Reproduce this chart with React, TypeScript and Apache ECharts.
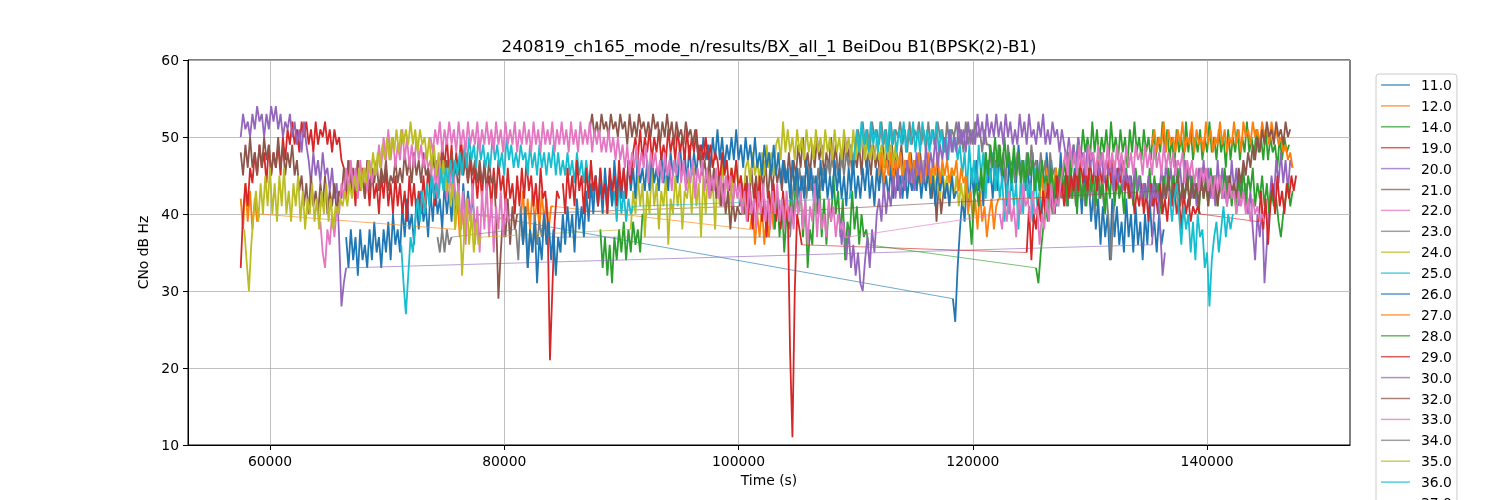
import React, { useEffect, useRef } from "react";
import * as echarts from "echarts";

const TITLE = "240819_ch165_mode_n/results/BX_all_1 BeiDou B1(BPSK(2)-B1)";
const X_NAME = "Time (s)";
const Y_NAME = "CNo dB Hz";
const X_MIN = 53000;
const X_MAX = 152200;
const X_TICKS = [60000, 80000, 100000, 120000, 140000];
const Y_TICKS = [10, 20, 30, 40, 50, 60];
const STEP = 200; // sampling step (s) of the values

const TAB10 = ["#1f77b4", "#ff7f0e", "#2ca02c", "#d62728", "#9467bd", "#8c564b", "#e377c2", "#7f7f7f", "#bcbd22", "#17becf"];
const PRN_NAMES = ["11.0", "12.0", "14.0", "19.0", "20.0", "21.0", "22.0", "23.0", "24.0", "25.0", "26.0", "27.0", "28.0", "29.0", "30.0", "32.0", "33.0", "34.0", "35.0", "36.0", "37.0"];

type Seg = { t0: number; v: number[] };

const prn11: Seg[] = [
  { t0: 66500, v: [37, 33, 38, 34, 37, 32, 38, 34, 36, 33, 38, 34, 39, 35, 37, 33, 38, 35, 39, 34, 40, 36, 38, 35, 41, 37, 42, 38, 40, 36, 42, 38, 43, 39, 41, 37, 43, 39, 44, 40, 42, 38, 44, 40, 43, 39, 44, 40, 42, 38, 44, 39, 43, 40, 42, 38, 40] },
  { t0: 118300, v: [29, 26, 33, 38, 42, 39, 45, 41, 46, 42, 47, 43, 45, 41, 48, 44, 46, 42, 47, 43, 48, 44, 46, 41, 47, 43, 48, 44, 49, 45, 47, 43, 46, 42, 48, 44, 47, 43, 45, 41, 48, 44, 47, 42, 46, 42, 48, 43, 45, 41, 47, 43, 46, 42, 45, 40, 46, 42, 44, 39, 43, 38, 42, 36, 41, 37, 40, 34, 42, 37, 41, 36, 39, 35, 42, 37, 40, 35, 41, 36, 39, 34, 40, 36, 42, 37, 39, 35, 40, 36, 38] },
];
const prn12: Seg[] = [
  { t0: 57500, v: [42, 38, 44, 39, 43, 38, 42, 39, 40] },
  { t0: 75800, v: [38, 42, 37, 41, 37, 42, 40] },
  { t0: 81400, v: [39, 43, 38, 42, 38, 43, 39, 42, 38, 43, 39, 42, 38, 41, 41] },
  { t0: 101000, v: [38, 41, 36, 40, 37, 41, 36, 40, 37, 41, 38, 40, 41] },
];
const prn14: Seg[] = [
  { t0: 88200, v: [38, 33, 37, 32, 36, 31, 37, 34, 38, 35, 39, 34, 38, 35, 39, 36, 38, 35, 40] },
  { t0: 102700, v: [40, 44, 38, 43, 37, 42, 35, 40, 38, 44, 39, 45, 40, 43, 37, 42, 33, 38, 36, 43, 40, 44, 37, 42, 36, 41, 39, 45, 40, 43, 37, 42, 34, 39, 37, 43, 38, 41, 36, 40, 37, 38, 36] },
  { t0: 125400, v: [33, 31, 35, 38, 41, 39, 43, 40, 45, 42, 46, 43, 47, 44, 48, 45, 49, 46, 50, 47, 51, 48, 50, 47, 52, 48, 51, 47, 50, 48, 51, 47, 52, 48, 50, 47, 51, 48, 50, 46, 51, 48, 52, 48, 50, 47, 51, 48, 50, 47, 51, 47, 50, 48, 52, 48, 51, 47, 50, 46, 51, 48, 50, 47, 52, 48, 51, 47, 50, 48, 51, 47, 50, 48, 52, 48, 50, 47, 51, 48, 50, 46, 51, 47, 50, 48, 51, 47, 50, 48, 52, 48, 50, 47, 51, 48, 50, 47, 51, 47, 50, 48, 49, 46, 50, 47, 50, 48, 49] },
];
const prn19: Seg[] = [
  { t0: 57500, v: [33, 40, 44, 41, 46,
    44, 48, 45, 49, 46, 48, 44, 49, 45, 48, 46, 49, 45, 50, 47, 51,
    49, 52, 49, 51, 48, 52, 50, 52, 49, 51, 48, 52, 49, 51, 50, 52, 49, 51, 48, 51, 49, 50, 47,
    46, 42, 47, 43, 45, 41, 47, 43, 46, 42, 45, 41, 46, 42, 44, 40, 45, 42, 46, 41, 44, 40, 45, 41,
    44, 40, 43, 39, 45, 41, 44, 40, 43, 40, 45, 41, 46, 42, 44, 41, 47,
    45, 49, 46, 50, 45, 49, 44, 48, 45, 50, 46, 48, 44, 47, 43, 46, 42,
    46, 42, 47, 43, 45, 41, 46, 42, 47, 43, 45, 41, 46, 42, 44, 40, 45, 41, 46, 42, 47, 43, 45, 41, 44, 40, 46, 42, 43, 39,
    21, 30, 39, 43, 42] },
];
const prn20: Seg[] = [
  { t0: 57500, v: [50, 53, 51, 52, 50, 53, 51, 54, 52, 53, 50, 53, 51, 54, 52, 54, 51, 53, 50, 52, 51, 53, 50, 52, 49, 51, 48, 52, 49, 47, 44, 48, 45, 47, 44, 48, 45, 46, 43, 46, 42, 44, 37, 28, 31, 33] },
  { t0: 135300, v: [36, 41, 44, 42, 46, 42, 47, 43, 46, 42, 47, 44, 46, 42, 47, 43, 46, 42, 45, 41, 46, 43, 47, 43, 46, 42, 45, 41, 47, 43, 46, 42, 45, 42, 47, 43, 46, 41, 45, 42, 44, 40, 43, 38, 34, 40, 37, 41, 31, 36, 41, 45, 42, 47, 44, 48, 44, 47, 43, 47, 46] },
];
const prn21: Seg[] = [
  { t0: 57500, v: [48, 45, 49, 46, 50, 46, 48, 45, 49, 46, 50, 47, 49, 45, 48, 46, 50, 46, 49, 45, 48, 46, 49, 45, 47,
    43, 45, 41, 44, 40, 45, 41, 43, 40, 44, 41, 45, 40, 43, 41, 44, 40, 43, 42,
    46, 43, 47, 44, 46, 43, 47, 44, 45, 42, 47, 43, 46, 44, 47, 43, 46, 44, 47, 43, 45, 44, 47, 44,
    46, 44, 48, 45, 47, 44, 48, 45, 47, 44, 48, 45, 46, 44, 48, 45, 47, 44, 48, 45, 47, 44, 48, 45, 46, 43, 48, 45, 47, 44, 48, 45, 47, 44,
    47, 44, 46, 43, 47, 44, 45, 40,
    29, 35, 40, 37, 42, 36, 41, 38, 40] },
  { t0: 100100, v: [41, 44, 40, 45, 41, 46, 42, 45, 41, 46, 43, 47, 42, 46, 43, 47, 44, 46, 43, 47, 44, 48, 44, 47, 45,
    49, 46, 50, 46, 48, 45, 49, 46, 50, 47, 49, 45, 48, 46, 50, 46, 49, 45, 48, 46, 50, 47, 49, 45, 48, 46, 49, 45, 50, 46, 48, 45, 49, 46, 48, 44, 49, 46, 48, 45, 49, 45, 48, 46, 49, 45, 47, 44, 48, 45, 47, 44, 48, 45, 47, 44, 46,
    42, 45, 39, 44, 40, 43, 42] },
];
const prn22: Seg[] = [
  { t0: 64300, v: [39, 35, 33, 38, 36, 40, 37, 41, 40,
    44, 42, 46, 43, 47, 43, 46, 42, 47, 44, 46, 43, 47, 44, 46, 45,
    49, 46, 50, 47, 51, 47, 50, 46, 49, 47, 51, 47, 50, 46, 49, 46, 50, 47, 49, 46, 48, 46,
    47, 43, 46, 42, 47, 44, 45, 42, 46, 43, 45, 41, 44,
    38, 43, 36, 42, 39, 44, 36, 41, 35, 43, 38, 44, 37, 42, 35, 41, 38, 43, 37, 42, 39, 40] },
];
const prn23: Seg[] = [
  { t0: 74300, v: [37, 35, 38, 35, 38, 36, 37] },
  { t0: 81000, v: [38, 34, 41, 36, 39, 33, 38, 35, 40, 36, 39, 37, 40, 38, 37] },
  { t0: 104400, v: [37, 42, 45, 42, 46, 43, 45, 42, 46, 43, 45, 42, 46, 43, 46, 44,
    47, 45, 48, 45, 47, 44, 48, 45, 48, 46, 49, 46, 48,
    51, 49, 52, 49, 51, 48, 52, 50, 51, 49, 52, 49, 51, 48, 52, 49, 51, 50, 52, 49, 51, 48, 52, 49, 51, 50, 52, 49, 51, 48, 52, 49, 51, 49, 52, 50, 51, 48, 52, 49, 51, 50, 52, 49, 51, 48, 52, 49, 51, 49, 52, 50, 51, 48, 51, 49,
    49, 46, 48, 45, 49, 46, 48, 44, 49, 46, 47, 44, 48, 45, 47, 43, 48, 45, 49, 46, 47, 44, 48, 45, 47, 43, 48, 45, 46, 44,
    45, 42, 44, 41, 45, 42, 44, 41, 46, 42, 44, 41, 45, 42, 44, 40, 45, 42, 44, 41, 43, 39, 34, 40, 43, 44, 43] },
];
const prn24: Seg[] = [
  { t0: 57800, v: [38, 34, 30, 36, 40, 43,
    39, 44, 40, 45, 41, 46, 40, 44, 39, 45, 41, 46, 40, 43, 39, 44, 41, 45, 39, 43, 38, 42, 40, 44, 39, 42, 38, 43, 40, 44, 39, 42, 38, 41, 40, 42,
    41, 43, 41, 44, 42, 45, 43, 46, 43, 46, 44, 47, 45, 48, 45, 48, 46, 49, 47, 50, 47, 50, 48, 51, 48, 51, 49, 51, 49, 52, 49, 51,
    48, 51, 49, 50, 47, 50, 46, 49, 45, 48, 44, 47, 43, 46,
    41, 44, 38, 43, 40, 32, 38, 42, 36, 40, 35, 39, 36, 37] },
  { t0: 90800, v: [38, 43, 40, 45, 41, 44, 37, 43, 40, 46, 41, 44, 38, 43, 41, 45, 36, 42, 40, 45, 41, 44, 38, 43, 42,
    45, 40, 46, 41, 44, 37, 45, 40, 46, 42, 44, 38, 45, 41, 47, 42, 45, 40, 46, 42, 47, 43, 45, 41, 46,
    47, 44, 48, 45, 47, 44, 48, 45, 49, 46, 48, 45, 49,
    50, 47, 52, 48, 51, 48, 50, 47, 51, 48, 50, 47, 51, 48, 50, 47, 51, 48, 50, 47, 51, 48, 50, 47, 51, 48, 50, 47, 51, 48, 50, 47, 51, 47, 50, 48, 51, 47, 50, 47, 49, 47, 50, 47, 49, 46, 50, 47, 49, 46, 49, 46,
    48, 45, 47, 44, 48, 44, 47, 43, 46, 43, 47, 44, 46, 42, 47, 43, 45, 42, 46, 43, 45, 41, 46, 42, 45, 41, 44, 41, 45, 42, 43, 40, 41] },
];
const prn25: Seg[] = [
  { t0: 71200, v: [36, 31, 27, 32, 37, 35,
    39, 42, 39, 43, 40, 44, 41, 45, 42, 44, 42, 46, 43, 46, 44, 47, 44, 47, 45, 48, 45,
    49, 46, 50, 47, 49, 46, 50, 47, 49, 46, 48, 46, 50, 47, 49, 46, 48, 45, 50, 47, 49, 46, 48, 46, 49, 47, 48, 45, 49, 46, 48, 45, 49, 46, 48, 45, 48, 46, 49, 45, 48, 45, 47, 45, 48, 45, 47, 44, 48, 45, 47, 44, 47, 44,
    46, 42, 45, 41, 46, 42, 44, 40, 45, 41, 43, 39, 44, 40, 43, 39, 42, 40, 41] },
  { t0: 109500, v: [42, 46, 48, 51, 48, 52, 49, 51, 48, 52, 49, 51, 48, 52, 49, 51, 48, 52, 49, 51, 48, 51, 49, 52, 48, 51, 49, 52, 48, 51, 48, 52, 49, 51, 48, 51, 49, 52, 48, 51, 48, 50, 47, 51, 48, 50, 47, 49,
    45, 48, 43, 49, 44, 47, 43, 49, 45, 48, 42, 47, 44, 48, 43, 46, 42,
    45, 39, 44, 40, 46, 41, 44, 38, 45, 40, 47, 42, 44, 39, 46, 41, 43, 39, 45, 40, 44, 41, 43, 41, 42] },
];
const prn26: Seg[] = [
  { t0: 81400, v: [40, 36, 41, 33, 38, 35, 39, 31, 37, 34, 40, 36, 39, 34, 38, 32, 37, 35, 40, 36, 41, 37, 40, 35, 42, 38, 41, 37, 43, 39,
    44, 40, 45, 41, 44, 40, 46, 42, 45, 41, 47, 43, 45, 42, 46, 42, 47, 43, 46, 42, 48, 44, 46, 43, 47, 43, 48, 44, 46, 43, 48, 44, 47, 43, 48, 45, 47, 44, 49, 45, 48, 44, 49, 45, 48, 45, 49, 46,
    50, 47, 49, 46, 50, 47, 51, 47, 50, 46, 49, 47, 50, 47, 51, 47, 49, 46, 50, 47, 49, 46, 50, 46, 48, 45, 49, 46, 48, 45, 49, 45, 48, 44, 47, 44,
    46, 42, 47, 43, 46, 42, 45, 42, 47, 43, 46, 42, 45, 41, 47, 43, 46, 42, 45, 42, 47, 43, 46, 42, 45, 41, 46, 43, 47, 42, 45, 42, 46, 43, 47, 42, 45, 41, 46, 43, 47, 43, 45, 42, 46, 42, 47, 43, 45, 42, 46, 42, 45, 43, 47, 43,
    46, 42, 45, 43, 46, 42, 45, 41, 46, 43, 45, 42, 44, 41, 45, 42, 43] },
];
const prn27: Seg[] = [
  { t0: 112000, v: [45, 48, 44, 47, 45, 48, 44, 47, 45, 48, 44, 47, 46, 48, 44, 47, 45, 48, 44, 46, 45, 48, 44, 47, 45, 48, 44, 47, 45, 47, 44, 46, 45, 47, 43, 46, 44, 45, 40, 43, 39, 42, 38, 43, 39, 41, 37, 40, 42, 38, 41, 42] },
  { t0: 125700, v: [42, 45, 41, 46, 42, 45, 43, 46, 42, 45, 43, 44, 42, 44, 42] },
  { t0: 135300, v: [49, 51, 48, 50, 49, 52, 48, 51, 49, 50, 48, 51, 49, 52, 48, 50, 49, 52, 48, 51, 49, 50, 48, 52, 49, 51, 48, 50, 49, 52, 49, 51, 48, 50, 49, 52, 49, 51, 48, 52, 50, 51, 49, 52, 50, 51, 49, 52, 50, 51, 49, 52, 50, 51, 49, 50, 48, 49, 47, 48, 46] },
];
const prn28: Seg[] = [
  { t0: 119700, v: [40, 36, 42, 44, 41, 46, 43, 48, 45, 49, 46, 50, 46, 49, 45, 50, 46, 48, 44, 49, 45, 48, 44, 47, 44, 48, 45, 47, 43, 46, 43, 47, 44, 45,
    42, 46, 42, 45, 41, 46, 43, 45, 41, 46, 42, 45, 40, 46, 42, 44, 41, 46, 43, 45, 41, 46, 42, 44, 40, 45, 42, 46, 41, 45, 42, 44, 40, 46, 42, 45, 41, 46, 43, 45, 41, 44, 42, 46, 41, 45, 42, 44, 40, 45, 42, 46, 41, 45, 43, 46, 41, 44, 42, 46, 41, 45, 42, 44, 40, 46, 42, 45, 41, 46, 43, 45, 41, 44, 42, 46, 42, 45, 41, 44, 40, 45, 42, 46, 41, 45, 43, 46, 41, 44, 42, 45, 41, 44, 40, 43, 41, 42, 39,
    37, 40, 42, 44, 41, 43] },
];
const prn29: Seg[] = [
  { t0: 85000, v: [44, 40, 46, 42, 45, 41, 47, 43, 45, 40, 46, 42, 47, 43, 45, 41, 46, 42, 44, 40, 46, 43, 45, 41, 47, 43, 46, 42, 47, 44, 48,
    50, 47, 51, 47, 50, 48, 51, 47, 50, 48, 51, 47, 49, 47, 51, 48, 50, 47, 51, 48, 50, 47, 51, 47, 50, 48, 51, 47, 49, 47, 50, 47, 49, 46, 48,
    47, 44, 48, 45, 47, 43, 46, 44, 47, 43, 45, 42,
    44, 39, 43, 38, 44, 40, 45, 39, 42, 37, 43, 40, 44, 39, 42, 38, 43, 39, 41,
    22, 11, 30, 40, 38, 36] },
  { t0: 124600, v: [35, 41, 34, 40, 38,
    42, 39, 43, 40, 44, 41, 43, 40, 45, 42, 44, 41, 46, 42, 45, 43, 46, 43, 47, 44, 46, 43, 47, 44, 46, 43, 47, 44, 46, 43, 47,
    44, 47, 43, 46, 44, 47, 43, 45,
    42, 44, 40, 43, 41, 44, 40, 43, 39, 44, 41, 43, 40, 44, 40, 42, 39, 43, 41, 44, 40, 42, 38, 43, 40, 42, 39, 41, 40, 41, 40] },
  { t0: 144400, v: [39, 43, 38, 42, 36, 41, 44, 40, 45, 41, 43, 40, 44, 42, 45, 43, 45] },
];
const prn30: Seg[] = [
  { t0: 108600, v: [40, 36, 39, 34, 38, 33, 36, 32, 35, 31, 30, 34, 37, 33, 38, 35, 40,
    42, 39, 44, 40, 43, 41, 45, 42, 46, 42, 45, 43, 47, 44, 46, 43, 48, 45, 47, 44, 49, 45, 48, 46, 50, 46, 49, 47, 50, 47, 51, 48, 50, 48, 52, 49, 51, 48, 52, 49, 51, 49, 53, 50, 52, 49, 53, 50,
    52, 50, 53, 50, 52, 49, 53, 50, 52, 49, 51, 49, 53, 50, 52, 49, 53, 50, 51, 49, 52, 50, 53, 49, 51, 49, 52, 50, 51, 48, 51,
    49, 47, 50, 47, 49, 46, 50, 47, 48, 45, 49, 46, 48, 45, 47, 45, 48, 44, 47, 45, 47, 43, 46, 44, 47, 43, 46, 44, 45, 42, 46, 43, 45, 42, 44, 42, 45, 41, 44, 42, 43,
    38, 32, 35] },
];
const prn32: Seg[] = [
  { t0: 87300, v: [51, 53, 50, 52, 50, 53, 51, 52, 50, 53, 51, 52, 50, 53, 51, 52, 49, 53, 50, 52, 50, 53, 51, 52, 50, 52, 50, 53, 51, 52, 49, 52, 50, 53, 50, 52, 49, 52, 50, 51, 49, 52, 50, 51, 49, 51, 48,
    48, 45, 47, 44, 47, 43, 46, 42, 45, 41, 44, 40, 43, 38, 42, 39, 41, 40, 40] },
  { t0: 135900, v: [43, 41, 44, 42, 45, 41, 44, 42, 45, 41, 44, 42, 45, 41, 44, 42, 44, 41, 45, 42, 44, 41, 45, 42, 44, 41, 45, 42, 44, 41, 45, 43, 44, 42, 46, 44, 47, 45, 48, 46, 49, 47, 50, 48, 51, 49, 52, 50, 51, 49, 52, 50, 51, 49, 52, 50, 51] },
];
const prn33: Seg[] = [
  { t0: 73700, v: [50, 48, 51, 49, 52, 48, 51, 49, 52, 49, 51, 48, 52, 49, 51, 48, 52, 49, 51, 49, 52, 48, 51, 49, 52, 49, 51, 48, 52, 49, 51, 48, 52, 49, 51, 49, 52, 48, 51, 49, 52, 49, 51, 48, 52, 49, 51, 48, 52, 49, 51, 49, 52, 48, 51, 49, 52, 49, 51, 48, 52, 49, 51, 48, 52, 49, 51, 49, 52, 48, 51, 49, 51, 48, 50, 48, 51, 48, 50, 47, 50,
    47, 49, 46, 49, 45, 48, 46, 49, 45, 48, 46, 49, 44, 48, 46, 48, 45, 47, 44, 48, 45, 47, 43, 47, 45, 48, 44, 47, 43, 46, 44, 47, 42, 46, 44, 47, 43, 46, 42, 45, 43, 46, 42, 45, 41, 45, 43, 45, 41, 44, 42,
    44, 40, 43, 39, 44, 40, 42, 38, 43, 40, 44, 39, 42, 38, 43, 40, 44, 39, 42, 38, 43, 39, 41, 38, 42,
    40, 43, 38, 42, 36, 41, 39, 44, 37, 42, 38, 40, 37, 42, 39, 41, 37, 40, 38, 39, 37, 37] },
  { t0: 122300, v: [40, 38, 42, 39, 43, 39, 41, 37, 42, 40, 44, 41, 42, 39, 43, 40, 41,
    36, 40, 38, 42, 39, 44, 40, 42, 41, 44,
    46, 48, 45, 49, 46, 48, 45, 49, 46, 48, 45, 49, 47, 48, 45, 49, 46, 48, 45, 49, 46, 48, 45, 49, 46, 48, 45, 49, 46, 48, 45, 49, 47, 48, 45, 49, 46, 48, 45, 49, 46, 48, 45, 49, 46, 48,
    46, 48, 45, 47, 46, 48, 44, 47, 45, 47, 44, 46, 43, 46, 44, 46, 43, 45, 42, 45, 43, 45, 42, 44, 41, 44, 42, 43, 40, 43, 41, 43, 40, 42, 39, 42, 40, 41, 39, 40, 39] },
];
const prn34: Seg[] = [];
const prn35: Seg[] = [];
const prn36: Seg[] = [
  { t0: 136800, v: [43, 39, 42, 44, 40, 36, 41, 38, 40, 35, 39, 34, 40, 37, 38, 33, 35, 28, 34, 37, 39, 35, 38, 41, 37, 40, 38, 40] },
];
const prn37: Seg[] = [];

const SERIES_SEGS: Seg[][] = [prn11, prn12, prn14, prn19, prn20, prn21, prn22, prn23, prn24, prn25, prn26, prn27, prn28, prn29, prn30, prn32, prn33, prn34, prn35, prn36, prn37];

// noisy tracks of each pass, with a break between passes
function bandPoints(segs: Seg[]): (number | null)[][] {
  const out: (number | null)[][] = [];
  segs.forEach((s, k) => {
    s.v.forEach((y, i) => out.push([s.t0 + i * STEP, y]));
    if (k < segs.length - 1) out.push([s.t0 + s.v.length * STEP, null]);
  });
  return out;
}
// the straight joins that the plot draws from the end of one pass to the start of the next
function joinPoints(segs: Seg[]): (number | null)[][] {
  const out: (number | null)[][] = [];
  for (let k = 0; k < segs.length - 1; k++) {
    const a = segs[k];
    const b = segs[k + 1];
    out.push([a.t0 + (a.v.length - 1) * STEP, a.v[a.v.length - 1]]);
    out.push([b.t0, b.v[0]]);
    out.push([b.t0 + 1, null]);
  }
  return out;
}

const FONT = "DejaVu Sans";

export default function App() {
  const ref = useRef<HTMLDivElement>(null);
  useEffect(() => {
    if (!ref.current) return;
    const chart = echarts.init(ref.current, undefined, { renderer: "svg" });
    const series: any[] = [];
    PRN_NAMES.forEach((name, i) => {
      const c = TAB10[i % 10];
      series.push({
        name,
        type: "line",
        data: joinPoints(SERIES_SEGS[i]),
        showSymbol: false,
        symbol: "none",
        silent: true,
        connectNulls: false,
        color: c,
        lineStyle: { width: 0.8, opacity: 0.8, color: c },
        itemStyle: { color: c },
      });
      series.push({
        name,
        type: "line",
        data: bandPoints(SERIES_SEGS[i]),
        showSymbol: false,
        symbol: "none",
        silent: true,
        connectNulls: false,
        color: c,
        lineStyle: { width: 1.8, opacity: 1, color: c },
        itemStyle: { color: c },
      });
    });
    chart.setOption({
      animation: false,
      textStyle: { fontFamily: FONT },
      title: {
        text: TITLE,
        left: 769,
        top: 37,
        padding: 0,
        textAlign: "center",
        textStyle: { fontSize: 16.7, fontWeight: "normal", color: "#000", fontFamily: FONT },
      },
      grid: { left: 188, right: 150, top: 60, bottom: 55, show: true, borderColor: "#000", borderWidth: 1 },
      xAxis: {
        type: "value",
        min: X_MIN,
        max: X_MAX,
        splitNumber: 5,
        name: X_NAME,
        nameLocation: "middle",
        nameGap: 28,
        nameTextStyle: { fontSize: 13.9, color: "#000", fontFamily: FONT },
        axisLine: { show: true, onZero: false, lineStyle: { color: "#000", width: 1 } },
        axisTick: { show: true, length: 5, lineStyle: { color: "#000" }, customValues: X_TICKS },
        axisLabel: { color: "#000", fontSize: 13.9, margin: 9, fontFamily: FONT, customValues: X_TICKS, formatter: (v: number) => String(v) },
        splitLine: { show: true, lineStyle: { color: "#b0b0b0", width: 0.8 } },
      },
      yAxis: {
        type: "value",
        min: Y_TICKS[0],
        max: Y_TICKS[Y_TICKS.length - 1],
        interval: 10,
        name: Y_NAME,
        nameLocation: "middle",
        nameRotate: 90,
        nameGap: 31,
        nameTextStyle: { fontSize: 13.9, color: "#000", fontFamily: FONT },
        axisLine: { show: true, lineStyle: { color: "#000", width: 1 } },
        axisTick: { show: true, length: 5, lineStyle: { color: "#000" } },
        axisLabel: { color: "#000", fontSize: 13.9, margin: 9, fontFamily: FONT },
        splitLine: { show: true, lineStyle: { color: "#b0b0b0", width: 0.8 } },
      },
      legend: {
        orient: "vertical",
        left: 1376,
        top: 74,
        height: 800,
        padding: [3, 5, 3, 5],
        itemGap: 4.9,
        itemWidth: 29,
        itemHeight: 1.5,
        icon: "rect",
        borderColor: "#cccccc",
        borderWidth: 1,
        borderRadius: 3,
        backgroundColor: "rgba(255,255,255,0.8)",
        selectedMode: false,
        itemStyle: { opacity: 0.75 },
        textStyle: { fontSize: 13.9, color: "#000", lineHeight: 16, fontFamily: FONT, padding: [0, 0, 0, 6] },
        data: PRN_NAMES,
      },
      series,
    });
    return () => chart.dispose();
  }, []);
  return <div ref={ref} style={{ position: "fixed", left: 0, top: 0, width: 1500, height: 500 }} />;
}
